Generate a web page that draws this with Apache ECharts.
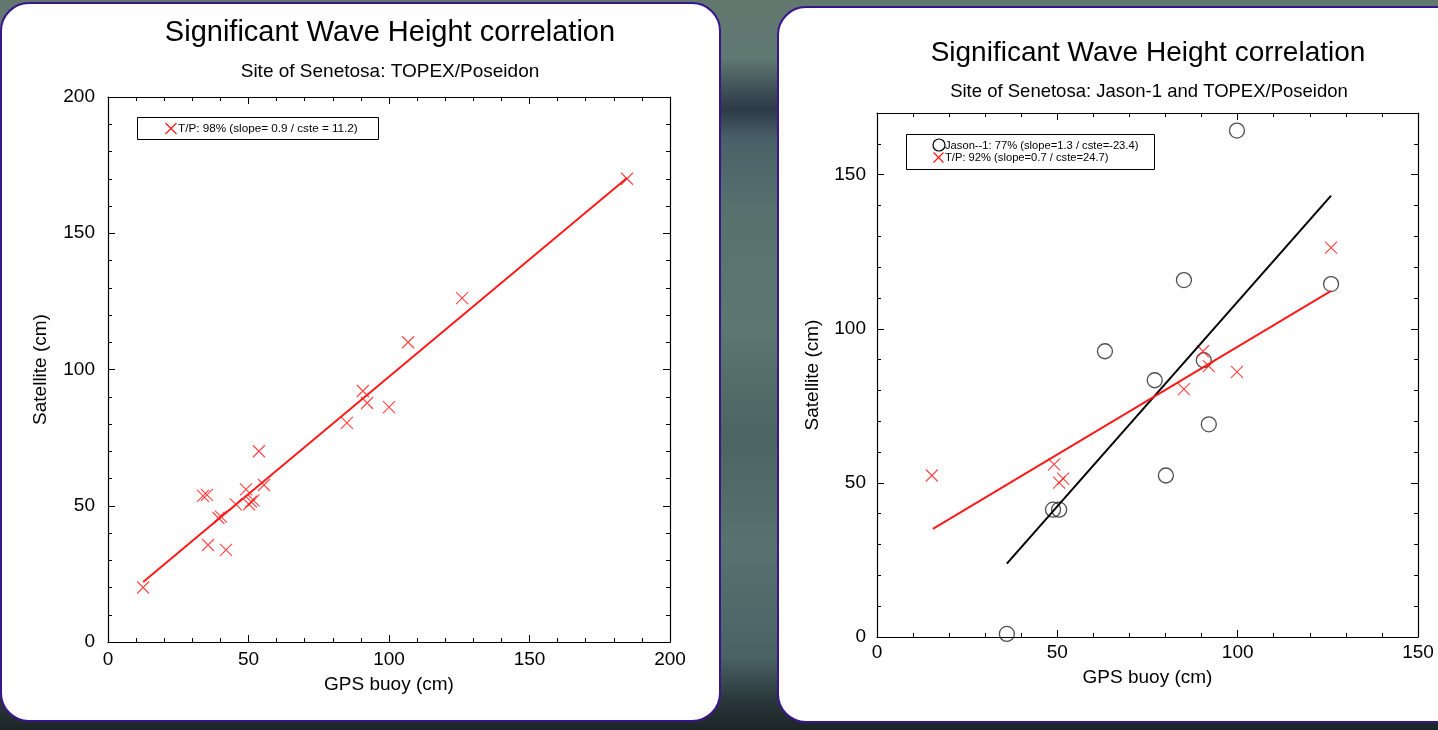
<!DOCTYPE html>
<html>
<head>
<meta charset="utf-8">
<script src="https://cdn.jsdelivr.net/npm/echarts@6/dist/echarts.min.js"></script>
<style>
html,body{margin:0;padding:0;background:#55706c;}
#c{width:1438px;height:730px;}
</style>
</head>
<body>
<div id="c"></div>
<script>
// ---- Data ----
// Left panel: TOPEX/Poseidon
const leftTpX = [12.5, 33.8, 35.2, 35.6, 39.3, 40.2, 42, 45.5, 49.1, 50.2, 50.9, 51.8, 53.7, 55.5, 85, 90.7, 92.2, 100, 106.8, 126, 184.7];
const leftTpY = [20, 53.6, 54, 35.6, 45.5, 46, 33.8, 50.5, 56, 50.5, 51.5, 52, 70, 57.6, 80.4, 92.1, 87.7, 86.2, 110, 126.2, 170];
const leftFitX = [12.5, 184.7];
const leftFitY = [22.0, 170.3];

// Right panel: Jason-1 and TOPEX/Poseidon
const jasonX = [36, 48.8, 50.5, 63.2, 77, 80.1, 85.1, 90.6, 92, 99.8, 125.9];
const jasonY = [1, 41.3, 41.3, 92.7, 83.3, 52.4, 115.8, 89.8, 69, 164.3, 114.5];
const rightTpX = [15.2, 49.1, 50.5, 51.6, 85.1, 90.4, 92, 99.8, 125.9];
const rightTpY = [52.4, 56, 50.1, 51.4, 80.4, 92.7, 87.9, 86, 126.3];
const jasonFitX = [36, 125.9];
const jasonFitY = [23.8, 143.2];
const rightTpFitX = [15.5, 125.9];
const rightTpFitY = [35.1, 112.3];

// Axis ranges / ticks
const leftXTicks = [0, 50, 100, 150, 200];
const leftYTicks = [0, 50, 100, 150, 200];
const rightXTicks = [0, 50, 100, 150];
const rightYTicks = [0, 50, 100, 150];

// Texts
const mainTitle = 'Significant Wave Height correlation';
const leftSub = 'Site of Senetosa: TOPEX/Poseidon';
const rightSub = 'Site of Senetosa: Jason-1 and TOPEX/Poseidon';
const xName = 'GPS buoy (cm)';
const yName = 'Satellite (cm)';
const leftLegend = 'T/P: 98% (slope= 0.9 / cste = 11.2)';
const rightLegendJ = 'Jason--1: 77% (slope=1.3 / cste=-23.4)';
const rightLegendT = 'T/P: 92% (slope=0.7 / cste=24.7)';

// ---- helpers ----
const zip = (a, b) => a.map((v, i) => [v, b[i]]);
const FONT = '"Liberation Sans", Arial, Helvetica, sans-serif';
const CROSS = 'path://M0,0L10,10M10,0L0,10';
const RED = '#ff1a1a';
const FS = 19;

function axis(gridIndex, pos, min, max, showLabel, opts) {
  return Object.assign({
    type: 'value', gridIndex: gridIndex, position: pos, min: min, max: max, interval: 50,
    axisLine: { show: true, onZero: false, lineStyle: { color: '#000', width: 1.2 } },
    axisTick: { show: true, inside: true, length: 7, lineStyle: { color: '#000', width: 1 } },
    minorTick: { show: true, splitNumber: 5, length: 4, lineStyle: { color: '#000', width: 1 } },
    splitLine: { show: false },
    minorSplitLine: { show: false },
    axisLabel: { show: showLabel, color: '#000', fontFamily: FONT, fontSize: FS },
    nameTextStyle: { color: '#000', fontFamily: FONT, fontSize: FS }
  }, opts || {});
}

function cross(cx, cy, h) {
  return [
    { type: 'polyline', shape: { points: [[cx - h, cy - h], [cx + h, cy + h]] }, style: { stroke: RED, lineWidth: 1.2 } },
    { type: 'polyline', shape: { points: [[cx + h, cy - h], [cx - h, cy + h]] }, style: { stroke: RED, lineWidth: 1.2 } }
  ];
}

const chart = echarts.init(document.getElementById('c'), null, { renderer: 'canvas' });

const option = {
  backgroundColor: {
    type: 'linear', x: 0, y: 0, x2: 0, y2: 1,
    colorStops: [
      { offset: 0.00, color: '#62786f' },
      { offset: 0.08, color: '#5f7872' },
      { offset: 0.13, color: '#3a4a52' },
      { offset: 0.15, color: '#2c3a48' },
      { offset: 0.19, color: '#4a6068' },
      { offset: 0.30, color: '#58736e' },
      { offset: 0.45, color: '#5c7670' },
      { offset: 0.60, color: '#4c6462' },
      { offset: 0.75, color: '#587270' },
      { offset: 0.90, color: '#4a6264' },
      { offset: 0.96, color: '#2a373a' },
      { offset: 1.00, color: '#1c2528' }
    ]
  },
  animation: false,
  graphic: [
    { type: 'rect', z: -10, shape: { x: 1, y: 3, width: 719, height: 718, r: 28 },
      style: { fill: '#fff', stroke: '#3a168c', lineWidth: 2 } },
    { type: 'rect', z: -10, shape: { x: 778, y: 7, width: 720, height: 715, r: 28 },
      style: { fill: '#fff', stroke: '#3a168c', lineWidth: 2 } },
    // titles
    { type: 'text', x: 390, y: 33, style: { text: mainTitle, font: '29px ' + FONT, fill: '#000', textAlign: 'center', textVerticalAlign: 'middle' } },
    { type: 'text', x: 390, y: 72, style: { text: leftSub, font: '19px ' + FONT, fill: '#000', textAlign: 'center', textVerticalAlign: 'middle' } },
    { type: 'text', x: 1148, y: 53, style: { text: mainTitle, font: '28px ' + FONT, fill: '#000', textAlign: 'center', textVerticalAlign: 'middle' } },
    { type: 'text', x: 1149, y: 92, style: { text: rightSub, font: '18.5px ' + FONT, fill: '#000', textAlign: 'center', textVerticalAlign: 'middle' } },
    // left legend
    { type: 'rect', shape: { x: 137.5, y: 117.5, width: 241, height: 22 }, style: { fill: '#fff', stroke: '#000', lineWidth: 1 } }
  ].concat(cross(171, 128.5, 5.5)).concat([
    { type: 'text', x: 178, y: 129, style: { text: leftLegend, font: '11.7px ' + FONT, fill: '#000', textAlign: 'left', textVerticalAlign: 'middle' } },
    // right legend
    { type: 'rect', shape: { x: 906.5, y: 134.5, width: 248, height: 35 }, style: { fill: '#fff', stroke: '#000', lineWidth: 1 } },
    { type: 'circle', shape: { cx: 939, cy: 145, r: 6 }, style: { fill: 'none', stroke: '#000', lineWidth: 1.2 } },
    { type: 'text', x: 945, y: 145.5, style: { text: rightLegendJ, font: '11.2px ' + FONT, fill: '#000', textAlign: 'left', textVerticalAlign: 'middle' } }
  ]).concat(cross(938.5, 157.5, 5)).concat([
    { type: 'text', x: 945, y: 158, style: { text: rightLegendT, font: '11.2px ' + FONT, fill: '#000', textAlign: 'left', textVerticalAlign: 'middle' } }
  ]),
  grid: [
    { left: 108, top: 97, width: 562, height: 545, containLabel: false },
    { left: 877, top: 113, width: 541, height: 524, containLabel: false }
  ],
  xAxis: [
    axis(0, 'bottom', leftXTicks[0], leftXTicks[leftXTicks.length - 1], true,
      { name: xName, nameLocation: 'middle', nameGap: 33, axisLabel: { show: true, color: '#000', fontFamily: FONT, fontSize: FS, margin: 8 } }),
    axis(0, 'top', leftXTicks[0], leftXTicks[leftXTicks.length - 1], false),
    axis(1, 'bottom', rightXTicks[0], rightXTicks[rightXTicks.length - 1], true,
      { name: xName, nameLocation: 'middle', nameGap: 31, axisLabel: { show: true, color: '#000', fontFamily: FONT, fontSize: FS, margin: 6 } }),
    axis(1, 'top', rightXTicks[0], rightXTicks[rightXTicks.length - 1], false)
  ],
  yAxis: [
    axis(0, 'left', leftYTicks[0], leftYTicks[leftYTicks.length - 1], true,
      { name: yName, nameLocation: 'middle', nameGap: 58, axisLabel: { show: true, color: '#000', fontFamily: FONT, fontSize: FS, margin: 13 } }),
    axis(0, 'right', leftYTicks[0], leftYTicks[leftYTicks.length - 1], false),
    axis(1, 'left', 0, 170, true,
      { name: yName, nameLocation: 'middle', nameGap: 55, axisLabel: { show: true, color: '#000', fontFamily: FONT, fontSize: FS, margin: 11,
        formatter: v => (rightYTicks.indexOf(v) >= 0 ? String(v) : '') } }),
    axis(1, 'right', 0, 170, false)
  ],
  series: [
    { name: 'T/P left', type: 'scatter', xAxisIndex: 0, yAxisIndex: 0, data: zip(leftTpX, leftTpY),
      symbol: CROSS, symbolSize: 12, itemStyle: { color: 'rgba(0,0,0,0)', borderColor: RED, borderWidth: 1.2 } },
    { name: 'T/P left fit', type: 'line', xAxisIndex: 0, yAxisIndex: 0, data: zip(leftFitX, leftFitY),
      showSymbol: false, lineStyle: { color: RED, width: 2 } },
    { name: 'Jason-1', type: 'scatter', xAxisIndex: 2, yAxisIndex: 2, data: zip(jasonX, jasonY),
      symbol: 'circle', symbolSize: 15, itemStyle: { color: 'rgba(0,0,0,0)', borderColor: '#222', borderWidth: 1.3 } },
    { name: 'T/P right', type: 'scatter', xAxisIndex: 2, yAxisIndex: 2, data: zip(rightTpX, rightTpY),
      symbol: CROSS, symbolSize: 12, itemStyle: { color: 'rgba(0,0,0,0)', borderColor: RED, borderWidth: 1.2 } },
    { name: 'Jason-1 fit', type: 'line', xAxisIndex: 2, yAxisIndex: 2, data: zip(jasonFitX, jasonFitY),
      showSymbol: false, lineStyle: { color: '#000', width: 2 } },
    { name: 'T/P right fit', type: 'line', xAxisIndex: 2, yAxisIndex: 2, data: zip(rightTpFitX, rightTpFitY),
      showSymbol: false, lineStyle: { color: RED, width: 2 } }
  ]
};
chart.setOption(option);
</script>
</body>
</html>
